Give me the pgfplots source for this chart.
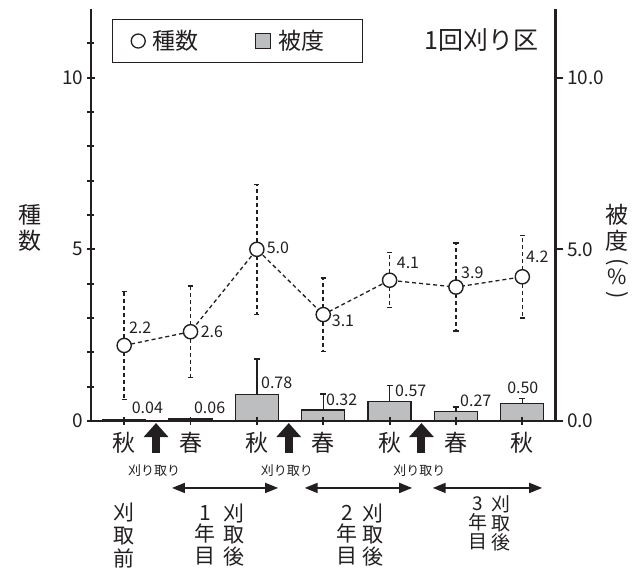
\documentclass[border=0pt]{standalone}
\usepackage{pgfplots}
\usepackage{pgfplotstable}
\pgfplotsset{compat=1.18}
\usepackage{fontspec}
\setmainfont{Noto Sans CJK JP}
\usetikzlibrary{arrows.meta}
\definecolor{ink}{HTML}{231F20}
\definecolor{barfill}{HTML}{BCBEC0}

% species count: mean and spread
\pgfplotstableread{
x y e
0 2.2 1.57
1 2.6 1.33
2 5.0 1.89
3 3.1 1.07
4 4.1 0.80
5 3.9 1.28
6 4.2 1.20
}\species

% cover (%): mean and upper spread
\pgfplotstableread{
x y e
0 0.04 0
1 0.06 0
2 0.78 1.03
3 0.32 0.47
4 0.57 0.46
5 0.27 0.14
6 0.50 0.15
}\cover

\pgfplotsset{
  base/.style={
    scale only axis, width=464.5pt, height=412pt,
    xmin=-0.5, xmax=6.5, ymin=0, ymax=12,
    clip=false,
    tick style={line width=1.8pt, ink},
    tick align=outside,
    major tick length=8pt, minor tick length=7pt,
    /pgf/number format/assume math mode=true,
    ticklabel style={font=\fontsize{19}{22}\selectfont, text=ink},
  },
  plainlines/.style={
    axis line style={-, line width=2.6pt, ink},
    every outer x axis line/.append style={-},
    every outer y axis line/.append style={-},
    every inner x axis line/.append style={-},
    every inner y axis line/.append style={-},
    x axis line style={-}, y axis line style={-},
  },
}
\tikzset{
  lbl/.style={font=\fontsize{16}{18}\selectfont, text=ink, anchor=west, inner sep=0pt},
  mow/.style={ink, line width=8pt, -{Triangle[width=24pt,length=14pt]}},
  period/.style={ink, line width=1.8pt, {Triangle[width=10pt,length=13pt]}-{Triangle[width=10pt,length=13pt]}},
  small/.style={font=\fontsize{13}{15}\selectfont, text=ink},
}

\begin{document}
\begin{tikzpicture}
\useasboundingbox (-91pt,-148pt) rectangle (546pt,421pt);

% cover bars on the right-hand scale
\begin{axis}[base,
  axis x line=none, axis y line*=right, plainlines,
  ytick={0,5,10}, yticklabels={0.0,5.0,10.0},
  legend columns=2,
  legend style={at={(0.0452,0.9757)}, anchor=north west, draw=ink, line width=1.2pt,
    font=\fontsize{23}{26}\selectfont, text=ink,
    nodes={inner sep=0pt},
    inner xsep=18pt, inner ysep=11pt,
    /tikz/every odd column/.append style={column sep=7pt},
    /tikz/every even column/.append style={column sep=56pt}},
]
\addlegendimage{legend image code/.code={
  \draw[ink, line width=1.3pt, fill=white] (7pt,0pt) circle [radius=7pt];}}
\addlegendentry{種数}
\addplot[ybar, bar width=43pt, fill=barfill, draw=ink, line width=1.3pt,
  legend image code/.code={
    \draw[ink, line width=1.3pt, fill=barfill] (0pt,-7.5pt) rectangle (15pt,7.5pt);},
  error bars/.cd, y dir=plus, y explicit,
  error bar style={line width=1.3pt, ink},
  error mark options={rotate=90, line width=1.3pt, mark size=3pt}]
  table[x=x, y=y, y error=e] {\cover};
\addlegendentry{被度\hspace*{20pt}}

\node[lbl] at (axis cs:0.112,0.39) {0.04};
\node[lbl] at (axis cs:1.051,0.39) {0.06};
\node[lbl] at (axis cs:2.061,1.11) {0.78};
\node[lbl] at (axis cs:3.041,0.61) {0.32};
\node[lbl] at (axis cs:4.081,0.87) {0.57};
\node[lbl] at (axis cs:5.061,0.60) {0.27};
\node[lbl] at (axis cs:5.77,0.96) {0.50};
\end{axis}

% species count on the left-hand scale
\begin{axis}[base,
  axis x line=bottom, axis y line=left, plainlines,
  xtick={0,...,6}, xticklabels={秋,春,秋,春,秋,春,秋},
  x tick label style={font=\fontsize{23}{26}\selectfont, text=ink, yshift=-4pt},
  ytick={0,5,10}, yticklabels={0,5,10},
  minor ytick={1,2,3,4,6,7,8,9,11},
]
\addplot[ink, line width=1.3pt, dash pattern=on 4pt off 3pt,
  mark=*, mark size=7.1pt, mark options={solid, fill=white, draw=ink, line width=1.4pt},
  error bars/.cd, y dir=both, y explicit,
  error bar style={line width=1.5pt, dash pattern=on 4pt off 3pt, ink},
  error mark options={rotate=90, solid, line width=1.4pt, mark size=2.6pt}]
  table[x=x, y=y, y error=e] {\species};

\node[lbl] at (axis cs:0.07,2.71) {2.2};
\node[lbl] at (axis cs:1.152,2.59) {2.6};
\node[lbl] at (axis cs:2.147,5.04) {5.0};
\node[lbl] at (axis cs:3.127,2.91) {3.1};
\node[lbl] at (axis cs:4.107,4.60) {4.1};
\node[lbl] at (axis cs:5.076,4.33) {3.9};
\node[lbl] at (axis cs:6.056,4.78) {4.2};

% panel title and axis titles
\node[font=\fontsize{25}{28}\selectfont, text=ink] at (axis cs:5.38,11.10) {1回刈り区};
\node[font=\fontsize{23}{26}\selectfont, text=ink, align=center] at (axis cs:-1.42,5.62) {種\\数};
\node[font=\fontsize{23}{26}\selectfont, text=ink, align=center] at (axis cs:7.43,5.62) {被\\度};
\node[font=\fontsize{22}{26}\selectfont, text=ink, rotate=-90] at (axis cs:7.43,4.63) {(};
\node[font=\fontsize{21}{26}\selectfont, text=ink] at (axis cs:7.43,4.19) {\%};
\node[font=\fontsize{22}{26}\selectfont, text=ink, rotate=-90] at (axis cs:7.43,3.67) {)};

% mowing events
\draw[mow] (axis cs:0.48,-0.93) -- (axis cs:0.48,-0.06);
\draw[mow] (axis cs:2.48,-0.93) -- (axis cs:2.48,-0.06);
\draw[mow] (axis cs:4.48,-0.93) -- (axis cs:4.48,-0.06);
\node[small] at (axis cs:0.45,-1.43) {刈り取り};
\node[small] at (axis cs:2.45,-1.43) {刈り取り};
\node[small] at (axis cs:4.45,-1.43) {刈り取り};

% periods after mowing
\draw[period] (axis cs:0.72,-1.95) -- (axis cs:2.32,-1.95);
\draw[period] (axis cs:2.72,-1.95) -- (axis cs:4.34,-1.95);
\draw[period] (axis cs:4.65,-1.95) -- (axis cs:6.30,-1.95);

\node[font=\fontsize{21}{23}\selectfont, text=ink, align=center] at (axis cs:0,-3.35) {刈\\取\\前};
\node[font=\fontsize{21}{21.5}\selectfont, text=ink, align=center] at (axis cs:1.22,-3.32) {1\\年\\目};
\node[font=\fontsize{21}{21.5}\selectfont, text=ink, align=center] at (axis cs:1.65,-3.32) {刈\\取\\後};
\node[font=\fontsize{21}{21.5}\selectfont, text=ink, align=center] at (axis cs:3.36,-3.32) {2\\年\\目};
\node[font=\fontsize{21}{21.5}\selectfont, text=ink, align=center] at (axis cs:3.75,-3.32) {刈\\取\\後};
\node[font=\fontsize{19}{19}\selectfont, text=ink, align=center] at (axis cs:5.33,-2.97) {3\\年\\目};
\node[font=\fontsize{19}{19}\selectfont, text=ink, align=center] at (axis cs:5.68,-2.97) {刈\\取\\後};
\end{axis}
\end{tikzpicture}
\end{document}
